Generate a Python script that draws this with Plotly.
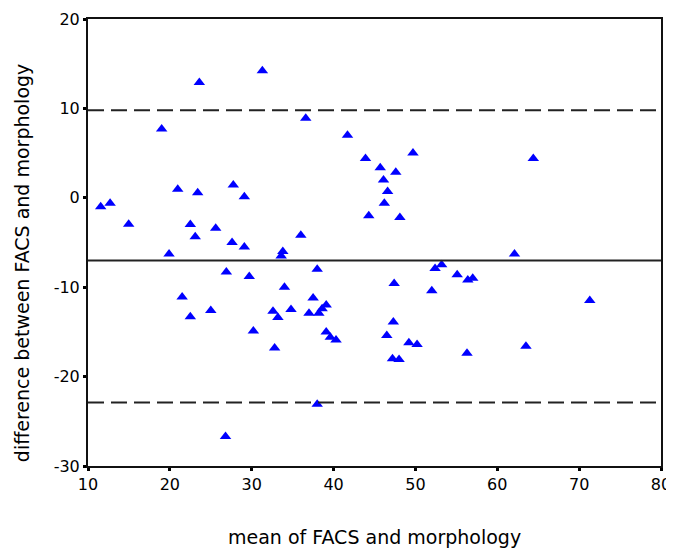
import plotly.graph_objects as go

mean_x = [11.55, 12.7, 14.97, 19.0, 19.9, 20.96, 21.5, 22.5, 22.5, 23.1,
          23.4, 23.6, 25.0, 25.6, 26.8, 26.9, 27.6, 27.75, 29.1, 29.1,
          29.7, 30.2, 31.3, 32.6, 32.8, 33.2, 33.6, 33.8, 34.0, 34.8,
          36.0, 36.6, 37.0, 37.5, 38.0, 38.0, 38.2, 38.6, 39.1, 39.1,
          39.6, 40.3, 41.7, 43.9, 44.3, 45.7, 46.1, 46.2, 46.5, 46.6,
          47.2, 47.3, 47.4, 47.6, 48.0, 48.1, 49.2, 49.7, 50.2, 52.0,
          52.4, 53.2, 55.1, 56.3, 56.4, 57.0, 62.1, 63.5, 64.4, 71.3]
diff_y = [-1.0, -0.6, -2.97, 7.7, -6.3, 0.95, -11.1, -3.0, -13.3, -4.35,
          0.57, 12.9, -12.6, -3.4, -26.7, -8.3, -5.0, 1.43, 0.12, -5.5,
          -8.8, -14.9, 14.2, -12.7, -16.8, -13.4, -6.5, -6.0, -10.0, -12.5,
          -4.2, 8.9, -12.9, -11.2, -8.0, -23.1, -12.9, -12.4, -12.0, -15.0,
          -15.6, -15.9, 7.0, 4.4, -2.0, 3.37, 2.0, -0.6, -15.4, 0.7,
          -18.0, -13.9, -9.6, 2.85, -18.1, -2.2, -16.2, 5.0, -16.4, -10.4,
          -7.9, -7.5, -8.6, -17.4, -9.2, -9.0, -6.3, -16.6, 4.4, -11.5]

mean_diff = -7.0
upper_limit = 9.8
lower_limit = -22.9

x_ticks = [10, 20, 30, 40, 50, 60, 70, 80]
x_tick_labels = ["10", "20", "30", "40", "50", "60", "70", "80"]
y_ticks = [20, 10, 0, -10, -20, -30]
y_tick_labels = ["20", "10", "0", "-10", "-20", "-30"]

x_title = "mean of FACS and morphology"
y_title = "difference between FACS and morphology"

fig = go.Figure()

fig.add_trace(go.Scatter(
    x=mean_x, y=diff_y, mode="markers",
    marker=dict(symbol="triangle-up", size=10, color="#0000FF",
                line=dict(width=0)),
    showlegend=False, hoverinfo="x+y"))

for val, dash in [(upper_limit, "16px,7px"), (mean_diff, "solid"), (lower_limit, "16px,7px")]:
    fig.add_trace(go.Scatter(
        x=[10, 80], y=[val, val], mode="lines",
        line=dict(color="#222222", width=2, dash=dash),
        showlegend=False, hoverinfo="skip"))

font = "DejaVu Sans, Verdana, sans-serif"

fig.update_layout(
    width=666, height=540,
    margin=dict(l=80, r=13, t=11, b=82),
    paper_bgcolor="white", plot_bgcolor="white",
    font=dict(family=font, size=16, color="black"),
    xaxis=dict(range=[10, 80], tickvals=x_ticks, ticktext=x_tick_labels,
               showgrid=False, zeroline=False, showline=True, mirror=True,
               linecolor="#111111", linewidth=2, ticks="outside", ticklen=3,
               tickwidth=3, tickcolor="black", automargin=False,
               ticklabeloverflow="allow",
               tickfont=dict(size=16, family=font)),
    yaxis=dict(range=[-30, 20], tickvals=y_ticks, ticktext=y_tick_labels,
               showgrid=False, zeroline=False, showline=True, mirror=True,
               linecolor="#111111", linewidth=2, ticks="outside", ticklen=3,
               tickwidth=3, tickcolor="black", automargin=False,
               ticklabeloverflow="allow",
               tickfont=dict(size=16, family=font)),
    annotations=[
        dict(text=x_title, xref="paper", yref="paper", x=0.5, y=-0.159,
             xanchor="center", yanchor="middle", showarrow=False,
             font=dict(size=19, family=font, color="black")),
        dict(text=y_title, xref="paper", yref="paper", x=-0.115, y=0.454,
             xanchor="center", yanchor="middle", showarrow=False, textangle=-90,
             font=dict(size=19, family=font, color="black")),
    ],
)

fig.write_html("out.html")
